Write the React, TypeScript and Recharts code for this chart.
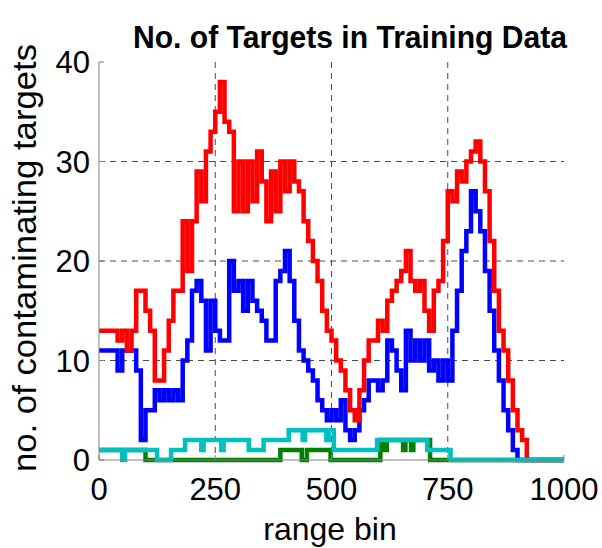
import { LineChart, Line, XAxis, YAxis, CartesianGrid } from 'recharts';

const W = 602;
const H = 548;
const FONT = '"Liberation Sans", Arial, Helvetica, sans-serif';
const AXIS_GREY = '#808080';
const GRID_GREY = '#4a4a4a';

// range bin positions for the red / blue series (every 10 bins)
const rangeBins = [
  0, 10, 20, 30, 40, 50, 60, 70, 80, 90,
  100, 110, 120, 130, 140, 150, 160, 170, 180, 190,
  200, 210, 220, 230, 240, 250, 260, 270, 280, 290,
  300, 310, 320, 330, 340, 350, 360, 370, 380, 390,
  400, 410, 420, 430, 440, 450, 460, 470, 480, 490,
  500, 510, 520, 530, 540, 550, 560, 570, 580, 590,
  600, 610, 620, 630, 640, 650, 660, 670, 680, 690,
  700, 710, 720, 730, 740, 750, 760, 770, 780, 790,
  800, 810, 820, 830, 840, 850, 860, 870, 880, 890,
  900, 910, 920, 930, 940, 950, 960, 970, 980, 990,
  1000,
];

const redCounts = [
  13, 13, 13, 13, 12, 13, 11, 13, 17, 17,
  15, 13, 8, 8, 11, 14, 17, 17, 24, 19,
  24, 29, 26, 31, 33, 35, 38, 34, 33, 25,
  30, 25, 30, 26, 31, 28, 24, 29, 25, 30,
  27, 30, 28, 27, 24, 22, 20, 18, 15, 13,
  12, 10, 9, 7, 5, 4, 7, 10, 12, 12,
  14, 13, 16, 17, 18, 19, 21, 18, 17, 18,
  15, 13, 17, 18, 22, 27, 26, 29, 28, 30,
  31, 32, 30, 27, 22, 17, 13, 11, 8, 5,
  3, 2, 0, 0, 0, 0, 0, 0, 0, 0,
  0,
];

const blueCounts = [
  11, 11, 11, 11, 9, 11, 11, 11, 9, 2,
  5, 5, 7, 6, 7, 6, 7, 6, 10, 12,
  17, 18, 16, 11, 16, 13, 12, 12, 20, 17,
  18, 15, 18, 16, 15, 14, 12, 12, 18, 19,
  21, 18, 14, 11, 10, 9, 8, 6, 5, 4,
  5, 4, 6, 3, 2, 3, 5, 6, 8, 8,
  7, 8, 12, 11, 9, 7, 13, 10, 12, 10,
  12, 9, 10, 8, 10, 8, 13, 17, 21, 23,
  27, 25, 23, 19, 15, 11, 8, 5, 3, 1,
  0, 0, 0, 0, 0, 0, 0, 0, 0, 0,
  0,
];

// green and cyan change level only occasionally: breakpoints + level
const greenBins = [0, 100, 390, 436, 447, 498, 605, 614, 619, 654, 659, 671, 676, 712, 1000];
const greenCounts = [1, 0, 1, 0, 1, 0, 2, 1, 2, 1, 2, 1, 2, 0, 0];

const cyanBins = [0, 50, 56, 125, 155, 185, 220, 225, 263, 268, 322, 354, 408, 438, 443, 489, 494, 505, 598, 706, 756, 1000];
const cyanCounts = [1, 0, 1, 0, 1, 2, 1, 2, 1, 2, 1, 2, 3, 2, 3, 2, 3, 1, 2, 1, 0, 0];

const xTicks = [0, 250, 500, 750, 1000];
const yTicks = [0, 10, 20, 30, 40];

const mainData = rangeBins.map((bin, i) => ({ bin, red: redCounts[i], blue: blueCounts[i] }));
const greenData = greenBins.map((bin, i) => ({ bin, count: greenCounts[i] }));
const cyanData = cyanBins.map((bin, i) => ({ bin, count: cyanCounts[i] }));

function LeftTick({ x, y, payload }: any) {
  return (
    <g>
      <text x={x} y={y} dy="0.36em" textAnchor="end" fontSize={31} fontFamily={FONT} fill="#000">
        {payload.value}
      </text>
      <line x1={x + 9} x2={x + 14} y1={y} y2={y} stroke={AXIS_GREY} />
    </g>
  );
}

function RightTick({ x, y }: any) {
  return <line x1={x - 5} x2={x} y1={y} y2={y} stroke={AXIS_GREY} />;
}

function BottomTick({ x, y, payload }: any) {
  return (
    <g>
      <text x={x} y={y + 40} textAnchor="middle" fontSize={31} fontFamily={FONT} fill="#000">
        {payload.value}
      </text>
      <line x1={x} x2={x} y1={y} y2={y - 5} stroke={AXIS_GREY} />
    </g>
  );
}

function TopTick({ x, y }: any) {
  return <line x1={x} x2={x} y1={y} y2={y + 5} stroke={AXIS_GREY} />;
}

export default function App() {
  return (
    <div style={{ position: 'absolute', left: 0, top: 0, width: W, height: H, background: '#fff' }}>
      <LineChart width={W} height={H} data={mainData} margin={{ top: 62, right: 38, bottom: 0, left: 0 }}>
        <CartesianGrid
          stroke={GRID_GREY}
          strokeDasharray="6 5"
          verticalValues={[250, 500, 750]}
          horizontalValues={[10, 20, 30]}
        />
        <XAxis
          dataKey="bin"
          type="number"
          domain={[0, 1000]}
          ticks={xTicks}
          height={88}
          stroke={AXIS_GREY}
          tickSize={0}
          tickMargin={0}
          tick={<BottomTick />}
          interval={0}
        />
        <XAxis
          xAxisId="t"
          orientation="top"
          dataKey="bin"
          type="number"
          domain={[0, 1000]}
          ticks={xTicks}
          height={0}
          stroke={AXIS_GREY}
          tickSize={0}
          tickMargin={0}
          tick={<TopTick />}
          interval={0}
        />
        <YAxis
          type="number"
          domain={[0, 40]}
          ticks={yTicks}
          width={99}
          stroke={AXIS_GREY}
          tickSize={0}
          tickMargin={9}
          tick={<LeftTick />}
          interval={0}
        />
        <YAxis
          yAxisId="r"
          orientation="right"
          type="number"
          domain={[0, 40]}
          ticks={yTicks}
          width={0}
          stroke={AXIS_GREY}
          tickSize={0}
          tickMargin={0}
          tick={<RightTick />}
          interval={0}
        />
        <Line
          type="stepAfter" dataKey="blue" stroke="#0000ff" strokeWidth={4.5}
          dot={false} isAnimationActive={false}
        />
        <Line
          type="stepAfter" dataKey="red" stroke="#ff0000" strokeWidth={4.5}
          dot={false} isAnimationActive={false}
        />
        <Line
          data={greenData} type="stepAfter" dataKey="count" stroke="#008000" strokeWidth={4.5}
          dot={false} isAnimationActive={false}
        />
        <Line
          data={cyanData} type="stepAfter" dataKey="count" stroke="#00c0c0" strokeWidth={4.5}
          dot={false} isAnimationActive={false}
        />
      </LineChart>
      <svg width={W} height={H} style={{ position: 'absolute', left: 0, top: 0, pointerEvents: 'none' }}>
        <text
          x={350} y={48} textAnchor="middle" fontSize={32} fontWeight="bold" fontFamily={FONT}
          textLength={434} lengthAdjust="spacingAndGlyphs" fill="#000"
        >
          No. of Targets in Training Data
        </text>
        <text
          transform="rotate(-90)" x={-258} y={36} textAnchor="middle" fontSize={34} fontFamily={FONT}
          textLength={428} lengthAdjust="spacingAndGlyphs" fill="#000"
        >
          no. of contaminating targets
        </text>
        <text x={330} y={540} textAnchor="middle" fontSize={32} fontFamily={FONT} fill="#000">
          range bin
        </text>
      </svg>
    </div>
  );
}
